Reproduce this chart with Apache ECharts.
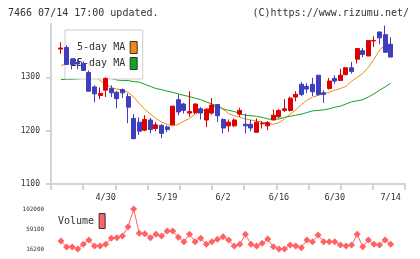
<!DOCTYPE html>
<html>
<head>
<meta charset="utf-8">
<script src="https://cdn.jsdelivr.net/npm/echarts@6/dist/echarts.min.js"></script>
<style>
html,body{margin:0;padding:0;background:#fff;}
#main{width:420px;height:259px;}
</style>
</head>
<body>
<div id="main"></div>
<script>
var dates = ['4/17','4/18','4/21','4/22','4/23','4/24','4/25','4/28','4/30','5/1',
    '5/2','5/7','5/8','5/9','5/12','5/13','5/14','5/15','5/16','5/19',
    '5/20','5/21','5/22','5/23','5/26','5/27','5/28','5/29','5/30','6/2',
    '6/3','6/4','6/5','6/6','6/9','6/10','6/11','6/12','6/13','6/16',
    '6/17','6/18','6/19','6/20','6/23','6/24','6/25','6/26','6/27','6/30',
    '7/1','7/2','7/3','7/4','7/7','7/8','7/9','7/10','7/11','7/14'];
var labelDates = ['4/30','5/19','6/2','6/16','6/30','7/14'];

var opens  = [1353,1356,1334,1328,1326,1309,1282,1266,1276,1279,1272,1277,1264,1223,1216,1201,1220,1204,1210,1207,
              1211,1258,1250,1233,1234,1241,1220,1233,1249,1221,1209,1209,1231,1212,1212,1197,1213,1209,1220,1226,
              1238,1238,1263,1287,1283,1287,1304,1271,1279,1298,1294,1305,1318,1334,1350,1340,1368,1385,1380,1362];
var closes = [1355,1324,1324,1325,1313,1274,1269,1270,1298,1271,1260,1271,1244,1185,1199,1221,1202,1211,1195,1202,
              1246,1235,1238,1236,1250,1233,1240,1248,1228,1205,1216,1220,1238,1209,1205,1216,1214,1215,1229,1238,
              1241,1261,1268,1268,1278,1273,1268,1268,1293,1293,1304,1318,1311,1354,1343,1369,1369,1374,1347,1338];
var lows   = [1344,1324,1315,1315,1313,1274,1253,1259,1263,1263,1242,1261,1214,1184,1192,1199,1195,1199,1186,1197,
              1211,1229,1232,1226,1231,1221,1207,1230,1216,1195,1198,1207,1226,1195,1199,1197,1204,1201,1220,1224,
              1235,1236,1255,1265,1270,1265,1265,1252,1277,1288,1294,1305,1307,1326,1338,1340,1357,1362,1347,1338];
var highs  = [1366,1360,1336,1334,1330,1313,1285,1281,1300,1285,1274,1279,1270,1231,1225,1229,1224,1216,1212,1210,
              1246,1268,1252,1274,1251,1244,1242,1261,1250,1223,1221,1223,1243,1232,1220,1223,1218,1218,1240,1240,
              1259,1264,1274,1291,1289,1299,1304,1276,1299,1304,1316,1318,1329,1354,1355,1369,1377,1386,1397,1375];

var ma5  = [1322,1326,1327,1328,1328,1313,1302,1294,1287,1281,1278,1276,1272,1263,1251,1240,1231,1223,1216,1212,
            1209,1212,1218,1223,1231,1236,1240,1244,1247,1240,1232,1228,1225,1222,1220,1218,1216,1214,1212,1215,
            1222,1231,1239,1249,1257,1263,1266,1269,1272,1276,1279,1283,1293,1300,1307,1319,1334,1351,1360,1360];
var ma25 = [1296,1296,1296,1297,1298,1298,1298,1299,1299,1298,1295,1294,1294,1292,1291,1287,1283,1279,1277,1274,
            1272,1269,1266,1264,1261,1258,1254,1250,1246,1241,1238,1236,1232,1229,1228,1227,1225,1222,1221,1222,
            1225,1227,1229,1231,1234,1237,1238,1239,1241,1244,1246,1250,1254,1256,1258,1263,1269,1276,1282,1289];

var volume = [33400,20500,20500,16200,26300,35500,22600,22600,26300,39100,40400,44100,64000,102000,49900,49000,40400,47700,44100,54800,
              54800,41300,31900,47700,31900,39100,26300,31900,37000,42600,35500,22600,26300,47700,26300,22600,28400,37600,21100,16200,
              16200,24800,22600,19000,35500,31900,46200,31900,31900,31900,24800,22600,24800,47700,21100,35500,26300,24800,35500,26300];

var priceTicks = [1100,1200,1300];
var volumeTicks = [16200,59100,102000];

var font = 'DejaVu Sans Mono';
var axisGray = '#d4d4d4';

function plain(v) {
    return String(v);
}

var candle_data = new Array();
for (var i = 0; i < dates.length; i++) {
    candle_data.push([opens[i], closes[i], lows[i], highs[i]]);
}

var chart = echarts.init(document.getElementById('main'));
var option = {
    animation: false,
    title: [
        {text: '7466 07/14 17:00 updated.', left: 8, top: 8, padding: 0,
         textStyle: {fontFamily: font, fontSize: 10, fontWeight: 'normal', color: '#333'}},
        {text: '(C)https://www.rizumu.net/', right: 11, top: 8, padding: 0,
         textStyle: {fontFamily: font, fontSize: 10, fontWeight: 'normal', color: '#333'}}
    ],
    legend: [
        {
            data: ['5-day MA', '25-day MA'],
            orient: 'vertical',
            align: 'right',
            left: 65,
            top: 30,
            padding: [11, 5, 9, 6],
            itemGap: 3,
            itemWidth: 7,
            itemHeight: 12,
            icon: 'rect',
            backgroundColor: '#fff',
            borderColor: '#cccccc',
            borderWidth: 1,
            selectedMode: false,
            z: 2,
            textStyle: {fontFamily: font, fontSize: 10, color: '#333'},
            itemStyle: {borderColor: '#333', borderWidth: 1}
        },
        {
            data: ['Volume'],
            align: 'right',
            left: 58,
            top: 213,
            padding: 0,
            itemWidth: 6,
            itemHeight: 15,
            icon: 'rect',
            selectedMode: false,
            textStyle: {fontFamily: font, fontSize: 10, color: '#333'},
            itemStyle: {borderColor: '#333', borderWidth: 1}
        }
    ],
    grid: [
        {left: 51, top: 24, width: 354, height: 160},
        {left: 58.2, top: 24, width: 335.3, height: 160},
        {left: 58.2, top: 209, width: 335.3, height: 40}
    ],
    xAxis: [
        {
            gridIndex: 0, type: 'value', min: 0, max: 11, interval: 1,
            axisLine: {onZero: false, lineStyle: {color: axisGray, width: 2}},
            axisTick: {length: 6, lineStyle: {color: axisGray, width: 2}},
            axisLabel: {show: false},
            splitLine: {show: false}
        },
        {
            gridIndex: 1, type: 'category', data: dates, boundaryGap: true,
            axisLine: {show: false},
            axisTick: {show: false},
            axisLabel: {
                interval: function (index, value) { return labelDates.indexOf(value) >= 0; },
                fontFamily: font, fontSize: 8.5, color: '#333', margin: 9
            }
        },
        {gridIndex: 2, type: 'category', data: dates, boundaryGap: true, show: false}
    ],
    yAxis: [
        {
            gridIndex: 0, type: 'value', min: 1100, max: 1400, interval: 100,
            axisLine: {show: true, lineStyle: {color: axisGray, width: 2}},
            axisTick: {show: true, length: 5, customValues: priceTicks, lineStyle: {color: axisGray, width: 2}},
            axisLabel: {customValues: priceTicks, formatter: plain, fontFamily: font, fontSize: 8, color: '#333', margin: 11},
            splitLine: {show: false}
        },
        {gridIndex: 1, type: 'value', min: 1100, max: 1400, show: false},
        {
            gridIndex: 2, type: 'value', min: 16200, max: 102000,
            axisLine: {show: false},
            axisTick: {show: false},
            axisLabel: {customValues: volumeTicks, formatter: plain, fontFamily: font, fontSize: 6, color: '#333', margin: 14},
            splitLine: {show: false}
        }
    ],
    series: [
        {
            name: '5-day MA', type: 'line', xAxisIndex: 1, yAxisIndex: 1,
            data: ma5, showSymbol: false, z: 1, color: '#f08a14',
            lineStyle: {width: 1, color: '#f08a14'}
        },
        {
            name: '25-day MA', type: 'line', xAxisIndex: 1, yAxisIndex: 1,
            data: ma25, showSymbol: false, z: 1, color: '#12a41e',
            lineStyle: {width: 1, color: '#12a41e'}
        },
        {
            name: 'Price', type: 'candlestick', xAxisIndex: 1, yAxisIndex: 1,
            data: candle_data, barWidth: 4.5, z: 3,
            itemStyle: {
                color: '#dc0000', color0: '#3e3ebf',
                borderColor: '#dc0000', borderColor0: '#3e3ebf', borderWidth: 1
            }
        },
        {
            name: 'Volume', type: 'line', xAxisIndex: 2, yAxisIndex: 2,
            data: volume, symbol: 'diamond', symbolSize: 7, showAllSymbol: true, z: 3, color: '#ff6262',
            lineStyle: {width: 1, color: '#ff6262'},
            itemStyle: {color: '#ff6262'}
        }
    ]
};
chart.setOption(option);
</script>
</body>
</html>
